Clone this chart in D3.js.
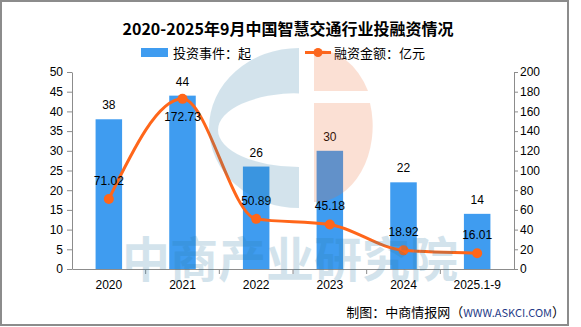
<!DOCTYPE html>
<meta charset="utf-8">
<head>
    <script src="https://cdn.jsdelivr.net/npm/d3@7"></script>
    <style>
        body { margin: 0; background: #fff; }
        .tick text { font: 12px "Liberation Sans", Arial, sans-serif; fill: #000; }
        .axis path, .axis line { stroke: #8c8c8c; }
    </style>
</head>
<body>
<div id="chart"></div>
<script>
    // data
    var categories = ["2020", "2021", "2022", "2023", "2024", "2025.1-9"];
    var events = [38, 44, 26, 30, 22, 14];                          // 投资事件：起
    var amounts = [71.02, 172.73, 50.89, 45.18, 18.92, 16.01];      // 融资金额：亿元
    var leftTicks = [0, 5, 10, 15, 20, 25, 30, 35, 40, 45, 50];
    var rightTicks = [0, 20, 40, 60, 80, 100, 120, 140, 160, 180, 200];

    var W = 581, H = 327;
    var plot = {left: 72, right: 514, top: 72, bottom: 269};
    var barColor = "#3f9cf0", lineColor = "#ff661a";
    var numFont = '"Liberation Sans", Arial, sans-serif';
    var cjkFont = '"Noto Sans CJK SC", sans-serif';

    var svg = d3.select("#chart").append("svg")
        .attr("width", W)
        .attr("height", H);

    svg.append("rect").attr("width", W).attr("height", H).attr("fill", "#fff");

    // outer frame
    svg.append("rect")
        .attr("x", 1).attr("y", 1)
        .attr("width", 567).attr("height", 324)
        .attr("fill", "none")
        .attr("stroke", "#8c8c8c")
        .attr("stroke-width", 2);

    // title
    svg.append("text")
        .attr("x", 288).attr("y", 35)
        .attr("text-anchor", "middle")
        .style("font", "bold 16px " + cjkFont)
        .text("2020-2025年9月中国智慧交通行业投融资情况");

    // legend
    svg.append("rect").attr("x", 141).attr("y", 48).attr("width", 27).attr("height", 9).attr("fill", barColor);
    svg.append("text").attr("x", 173).attr("y", 57.5).style("font", "13px " + cjkFont).text("投资事件：起");
    svg.append("line").attr("x1", 305).attr("x2", 331).attr("y1", 52.5).attr("y2", 52.5)
        .attr("stroke", lineColor).attr("stroke-width", 3);
    svg.append("circle").attr("cx", 318).attr("cy", 52.5).attr("r", 4.5).attr("fill", lineColor);
    svg.append("text").attr("x", 334).attr("y", 57.5).style("font", "13px " + cjkFont).text("融资金额：亿元");

    // scales
    var x = d3.scaleBand().domain(categories).range([plot.left, plot.right]);
    var yL = d3.scaleLinear().domain([0, 50]).range([plot.bottom, plot.top]);
    var yR = d3.scaleLinear().domain([0, 200]).range([plot.bottom, plot.top]);

    // axes
    svg.append("g").attr("class", "axis")
        .attr("transform", "translate(" + plot.left + ",0)")
        .call(d3.axisLeft(yL).tickValues(leftTicks).tickSize(5).tickPadding(4).tickSizeOuter(0));
    svg.append("g").attr("class", "axis")
        .attr("transform", "translate(" + plot.right + ",0)")
        .call(d3.axisRight(yR).tickValues(rightTicks).tickSize(4).tickPadding(2).tickSizeOuter(0));

    var xAxis = svg.append("g").attr("class", "axis")
        .attr("transform", "translate(0," + plot.bottom + ")")
        .call(d3.axisBottom(x).tickSize(0).tickPadding(11).tickSizeOuter(0));
    // ticks sit on the category boundaries
    xAxis.selectAll(".bound")
        .data(categories.slice(1))
        .enter().append("line")
        .attr("x1", function(d) { return x(d); })
        .attr("x2", function(d) { return x(d); })
        .attr("y1", 0).attr("y2", 5);

    // bars
    var bw = x.bandwidth() * 0.36;
    svg.selectAll(".bar")
        .data(categories)
        .enter().append("rect")
        .attr("x", function(d) { return x(d) + x.bandwidth() / 2 - bw / 2; })
        .attr("y", function(d, i) { return yL(events[i]); })
        .attr("width", bw)
        .attr("height", function(d, i) { return plot.bottom - yL(events[i]); })
        .attr("fill", barColor);

    svg.selectAll(".barLabel")
        .data(categories)
        .enter().append("text")
        .attr("x", function(d) { return x(d) + x.bandwidth() / 2; })
        .attr("y", function(d, i) { return yL(events[i]) - 10; })
        .attr("text-anchor", "middle")
        .style("font", "12px " + numFont)
        .text(function(d, i) { return events[i]; });

    // line
    var line = d3.line()
        .x(function(d, i) { return x(categories[i]) + x.bandwidth() / 2; })
        .y(function(d) { return yR(d); })
        .curve(d3.curveMonotoneX);

    svg.append("path")
        .datum(amounts)
        .attr("d", line)
        .attr("fill", "none")
        .attr("stroke", lineColor)
        .attr("stroke-width", 3);

    svg.selectAll(".dot")
        .data(amounts)
        .enter().append("circle")
        .attr("cx", function(d, i) { return x(categories[i]) + x.bandwidth() / 2; })
        .attr("cy", function(d) { return yR(d); })
        .attr("r", 5)
        .attr("fill", lineColor);

    svg.selectAll(".lineLabel")
        .data(amounts)
        .enter().append("text")
        .attr("x", function(d, i) { return x(categories[i]) + x.bandwidth() / 2; })
        .attr("y", function(d, i) { return i == 1 ? yR(d) + 22 : yR(d) - 14; })
        .attr("text-anchor", "middle")
        .style("font", "12px " + numFont)
        .text(function(d) { return d.toFixed(2); });

    // watermark logo + text, semi transparent on top
    var wm = svg.append("g").attr("opacity", 0.2);
    // blue "C"
    wm.append("path")
        .attr("fill", "#287aa5")
        .attr("fill-rule", "evenodd")
        .attr("d",
            "M299,48 A90,80 0 0,0 299,208 Z " +
            "M299,93 A81,37 0 0,0 299,167 Z");
    // pink half disc with a white band
    wm.append("path")
        .attr("fill", "#f06a30")
        .attr("d", "M314,50 A57,76 0 0,1 368,91 L314,91 Z M314,103 L370,103 A57,76 0 0,1 314,202 Z");
    wm.append("text")
        .attr("x", 122).attr("y", 277)
        .attr("textLength", 336)
        .attr("fill", "#287aa5")
        .style("font", "bold 48px " + cjkFont)
        .text("中商产业研究院");

    // source note
    var src = svg.append("text")
        .attr("x", 565).attr("y", 317)
        .attr("text-anchor", "end")
        .style("font", "13px " + cjkFont);
    src.append("tspan").text("制图：中商情报网（");
    src.append("tspan").attr("fill", "#1f3c88").style("font-size", "11px").text("WWW.ASKCI.COM");
    src.append("tspan").text("）");
</script>
</body>
